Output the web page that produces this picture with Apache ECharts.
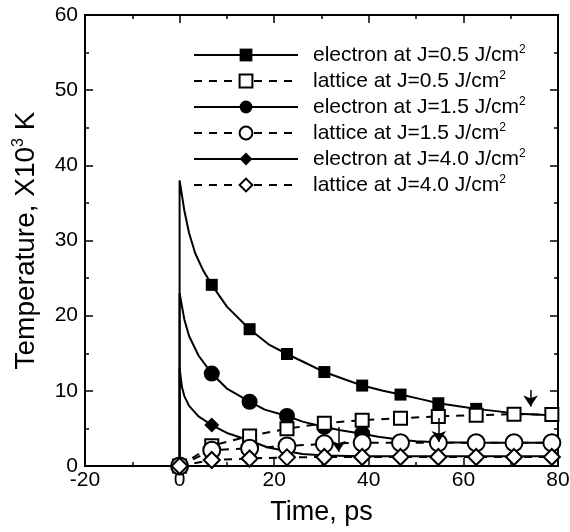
<!DOCTYPE html>
<html><head><meta charset="utf-8">
<script src="https://cdn.jsdelivr.net/npm/echarts@6/dist/echarts.min.js"></script>
<style>html,body{margin:0;padding:0;background:#fff}#c{width:570px;height:532px}</style>
</head><body><div id="c"></div>
<script>
// ---- data ----
const seriesNames = [
  'electron at J=0.5 J/cm{sup|2}',
  'lattice at J=0.5 J/cm{sup|2}',
  'electron at J=1.5 J/cm{sup|2}',
  'lattice at J=1.5 J/cm{sup|2}',
  'electron at J=4.0 J/cm{sup|2}',
  'lattice at J=4.0 J/cm{sup|2}'
];
const xTicks = [-20, 0, 20, 40, 60, 80];
const yTicks = [0, 10, 20, 30, 40, 50, 60];

const e05T = [0, 0, 1, 2, 3.3, 5, 6.8, 10, 14.8, 19, 22.7, 27, 30.6, 35, 38.6, 43, 46.7, 51, 54.7, 59, 62.7, 67, 70.7, 75, 78.7, 80];
const e05V = [0, 38, 34, 31, 28.3, 26, 24.1, 21.2, 18.2, 16.1, 14.9, 13.6, 12.5, 11.5, 10.7, 10.0, 9.5, 8.9, 8.35, 7.95, 7.6, 7.3, 7.0, 6.85, 6.75, 6.7];
const e05Markers = [0, 6.8, 14.8, 22.7, 30.6, 38.6, 46.7, 54.7, 62.7];

const l05T = [0, 6.8, 14.8, 22.7, 30.6, 38.6, 46.7, 54.7, 62.7, 70.7, 78.7, 80];
const l05V = [0, 2.7, 4.0, 4.95, 5.7, 6.1, 6.35, 6.6, 6.75, 6.9, 6.85, 6.85];
const l05Markers = [0, 6.8, 14.8, 22.7, 30.6, 38.6, 46.7, 54.7, 62.7, 70.7, 78.7];

const e15T = [0, 0, 1, 2, 4, 6.8, 10, 14.8, 18, 22.7, 26, 30.6, 34, 38.6, 42, 46.7, 50, 54.7, 62.7, 70.7, 78.7, 80];
const e15V = [0, 23, 19.5, 17.3, 14.7, 12.3, 10.3, 8.55, 7.5, 6.65, 5.9, 5.2, 4.75, 4.3, 3.9, 3.5, 3.3, 3.15, 3.1, 3.1, 3.1, 3.1];
const e15Markers = [0, 6.8, 14.8, 22.7, 30.6, 38.6];

const l15T = [0, 6.8, 14.8, 22.7, 30.6, 38.6, 46.7, 54.7, 62.7, 70.7, 78.7, 80];
const l15V = [0, 2.1, 2.35, 2.65, 2.95, 3.1, 3.1, 3.1, 3.1, 3.1, 3.1, 3.1];
const l15Markers = [0, 6.8, 14.8, 22.7, 30.6, 38.6, 46.7, 54.7, 62.7, 70.7, 78.7];

const e40T = [0, 0, 0.5, 1, 2, 4, 6.8, 10, 14.8, 18.5, 22.7, 26, 30.6, 38.6, 46.7, 54.7, 62.7, 70.7, 78.7, 80];
const e40V = [0, 13, 10.5, 9.3, 8.0, 6.6, 5.45, 4.4, 3.4, 2.5, 1.95, 1.6, 1.4, 1.3, 1.3, 1.3, 1.3, 1.3, 1.3, 1.3];
const e40Markers = [0, 6.8, 14.8];

const l40T = [0, 6.8, 14.8, 22.7, 30.6, 38.6, 46.7, 54.7, 62.7, 70.7, 78.7, 80];
const l40V = [0, 0.8, 1.0, 1.15, 1.2, 1.2, 1.2, 1.2, 1.2, 1.2, 1.2, 1.2];
const l40Markers = [0, 6.8, 14.8, 22.7, 30.6, 38.6, 46.7, 54.7, 62.7, 70.7, 78.7];

const arrowT = [74.2, 33.6, 54.8];
const arrowFrom = [10.1, 5.2, 6.4];
const arrowTo = [7.9, 1.9, 3.2];

// ---- build ----
const FONT = '"Liberation Sans", Arial, sans-serif';
function pts(T, V, M) {
  return T.map((t, i) => {
    const show = M.indexOf(t) >= 0 && (t !== 0 || i === 0);
    return show ? { value: [t, V[i]] } : { value: [t, V[i]], symbol: 'none' };
  });
}
function mk(name, T, V, M, symbol, size, filled, dashed, z) {
  return {
    name, type: 'line', data: pts(T, V, M), symbol, symbolSize: size, z,
    showAllSymbol: true, animation: false, clip: false,
    lineStyle: { color: '#000', width: 2, type: dashed ? [8, 7] : 'solid' },
    itemStyle: { color: filled ? '#000' : '#fff', borderColor: '#000', borderWidth: filled ? 0 : 2 },
    emphasis: { disabled: true }
  };
}
const series = [
  mk(seriesNames[0], e05T, e05V, e05Markers, 'rect', 12, true, false, 2),
  mk(seriesNames[1], l05T, l05V, l05Markers, 'rect', 13, false, true, 3),
  mk(seriesNames[2], e15T, e15V, e15Markers, 'circle', 16, true, false, 2),
  mk(seriesNames[3], l15T, l15V, l15Markers, 'circle', 17, false, true, 3),
  mk(seriesNames[4], e40T, e40V, e40Markers, 'diamond', 15, true, false, 2),
  mk(seriesNames[5], l40T, l40V, l40Markers, 'diamond', 16, false, true, 4)
];
series.push({
  name: 'arrows', type: 'line', data: [], silent: true, animation: false, z: 6,
  markLine: {
    silent: true, symbol: ['none', 'arrow'], symbolSize: 11, label: { show: false },
    lineStyle: { color: '#000', width: 1.5, type: 'solid' },
    data: arrowT.map((t, i) => [{ coord: [t, arrowFrom[i]] }, { coord: [t, arrowTo[i]] }])
  }
});

const sup = { fontSize: 12, padding: [0, 0, 10, 0], fontFamily: FONT, color: '#000' };
const axisCommon = {
  type: 'value',
  axisLine: { show: true, onZero: false, lineStyle: { color: '#000', width: 2 } },
  splitLine: { show: false },
  axisTick: { inside: true, length: 8, lineStyle: { color: '#000', width: 1.5 } },
  minorTick: { show: true, splitNumber: 2, length: 4, lineStyle: { color: '#000', width: 1.5 } }
};
const chart = echarts.init(document.getElementById('c'), null, { renderer: 'canvas' });
chart.setOption({
  backgroundColor: '#fff',
  animation: false,
  grid: { left: 85, right: 12, top: 15, bottom: 66, outerBoundsMode: 'none', containLabel: false },
  legend: {
    data: seriesNames,
    orient: 'vertical', left: 193, top: 44, padding: 0,
    itemWidth: 104, itemHeight: 16, itemGap: 4.5,
    formatter: n => n,
    selectedMode: false,
    textStyle: { fontFamily: FONT, fontSize: 21, color: '#000', padding: [0, 0, 0, 10], rich: { sup } }
  },
  xAxis: [
    Object.assign({}, axisCommon, {
      min: xTicks[0], max: xTicks[xTicks.length - 1], interval: 20,
      name: 'Time, ps', nameLocation: 'middle', nameGap: 33,
      nameTextStyle: { fontFamily: FONT, fontSize: 27, color: '#000' },
      axisLabel: { fontFamily: FONT, fontSize: 21, color: '#000', margin: 4 }
    }),
    Object.assign({}, axisCommon, {
      position: 'top', min: xTicks[0], max: xTicks[xTicks.length - 1], interval: 20,
      axisLabel: { show: false }
    })
  ],
  yAxis: [
    Object.assign({}, axisCommon, {
      min: yTicks[0], max: yTicks[yTicks.length - 1], interval: 10,
      name: 'Temperature, X10{sup|3} K', nameLocation: 'middle', nameGap: 44,
      nameTextStyle: { fontFamily: FONT, fontSize: 28, color: '#000', rich: { sup: { fontSize: 16, padding: [0, 0, 14, 0], fontFamily: FONT, color: '#000' } } },
      axisLabel: { fontFamily: FONT, fontSize: 21, color: '#000', margin: 7 }
    }),
    Object.assign({}, axisCommon, {
      position: 'right', min: yTicks[0], max: yTicks[yTicks.length - 1], interval: 10,
      axisLabel: { show: false }
    })
  ],
  series
});
</script></body></html>
